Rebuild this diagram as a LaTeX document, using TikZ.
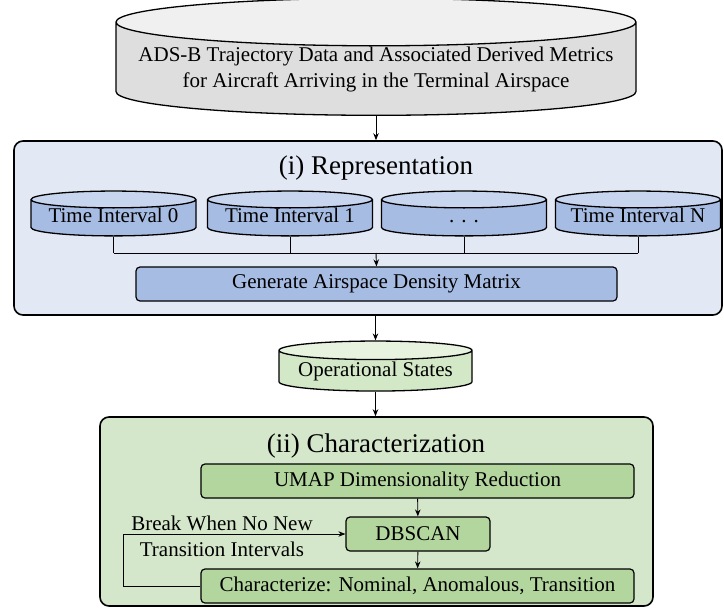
\documentclass[tikz,border=0pt]{standalone}
\usepackage{fontspec}
\setmainfont{Liberation Serif}
\usetikzlibrary{shapes.geometric, arrows.meta}

\definecolor{grayend}{HTML}{F0F0F0}
\definecolor{graybody}{HTML}{DEDEDE}
\definecolor{bluestage}{HTML}{E2E8F4}
\definecolor{blueend}{HTML}{C8D5EF}
\definecolor{bluebody}{HTML}{A7BCE3}
\definecolor{greenstage}{HTML}{D5E7CA}
\definecolor{greenend}{HTML}{E7F2DF}
\definecolor{greenbody}{HTML}{D3E8C7}
\definecolor{greenstep}{HTML}{B3D69E}

\begin{document}
\begin{tikzpicture}[x=1pt, y=-1pt, ->, >={Stealth[length=7pt, width=5.5pt]}, line width=0.9pt,
    every node/.style={font=\fontsize{21}{26}\selectfont},
    db/.style={cylinder, shape border rotate=90, draw, line width=1.3pt, cylinder uses custom fill, inner sep=0pt},
    stage/.style={draw, rounded corners=9pt, line width=1.6pt, inner sep=0pt},
    stepbox/.style={draw, rounded corners=4pt, line width=1.2pt, inner sep=0pt, minimum height=34pt},
    title/.style={font=\fontsize{27}{30}\selectfont}]
	\useasboundingbox (0, 0) rectangle (724, 608);
	
	% input data
	\node[db, aspect=0.1, minimum width=520pt, minimum height=104pt, align=center,
		cylinder end fill=grayend, cylinder body fill=graybody] (data) at (376, 69)
		{ADS-B Trajectory Data and Associated Derived Metrics\\for Aircraft Arriving in the Terminal Airspace};
	
	% (i) representation
	\node[stage, fill=bluestage, minimum width=708pt, minimum height=174pt] (repr) at (368, 228) {};
	\node[title] (reprtitle) at (376, 168) {(i) Representation};
	\foreach \x/\name/\txt in {113.5/t0/Time Interval 0, 290/t1/Time Interval 1, 464/t2/. . ., 638/t3/Time Interval N}
		\node[db, aspect=0.12, minimum width=165pt, minimum height=43pt,
			text height=14pt, text depth=5pt,
			cylinder end fill=blueend, cylinder body fill=bluebody] (\name) at (\x, 218) {\makebox[140pt]{\txt}};
	\node[stepbox, fill=bluebody, minimum width=481pt] (gen) at (376.5, 284) {Generate Airspace Density Matrix};
	\coordinate (merge) at (376, 253);
	
	% operational states
	\node[db, aspect=0.12, minimum width=193pt, minimum height=50pt,
		cylinder end fill=greenend, cylinder body fill=greenbody] (ops) at (375.5, 371) {Operational States};
	
	% (ii) characterization
	\node[stage, fill=greenstage, minimum width=553pt, minimum height=189pt] (charz) at (376.5, 511.5) {};
	\node[title] (charztitle) at (376, 446) {(ii) Characterization};
	\node[stepbox, fill=greenstep, minimum width=433pt] (umap) at (417.5, 481) {UMAP Dimensionality Reduction};
	\node[stepbox, fill=greenstep, minimum width=144pt] (dbscan) at (418, 534) {DBSCAN};
	\node[stepbox, fill=greenstep, minimum width=433pt] (label) at (417.5, 586) {Characterize: Nominal, Anomalous, Transition};
	\node[align=center] (brk) at (222, 536) {Break When No New\\Transition Intervals};
	
	% connectors
	\draw (data.south) -- (data.south |- repr.north);
	\foreach \name in {t0, t1, t2, t3}
		\draw[-] (\name.south) -- (\name.south |- merge);
	\draw[-] (t0.south |- merge) -- (t3.south |- merge);
	\draw (merge) -- (gen.north);
	\draw (ops.north |- repr.south) -- (ops.north);
	\draw (ops.south) -- (ops.south |- charz.north);
	\draw (umap) -- (dbscan);
	\draw (dbscan) -- (label);
	\draw (label.west) -- ++(-77, 0) |- (dbscan.west);
	
\end{tikzpicture}
\end{document}
